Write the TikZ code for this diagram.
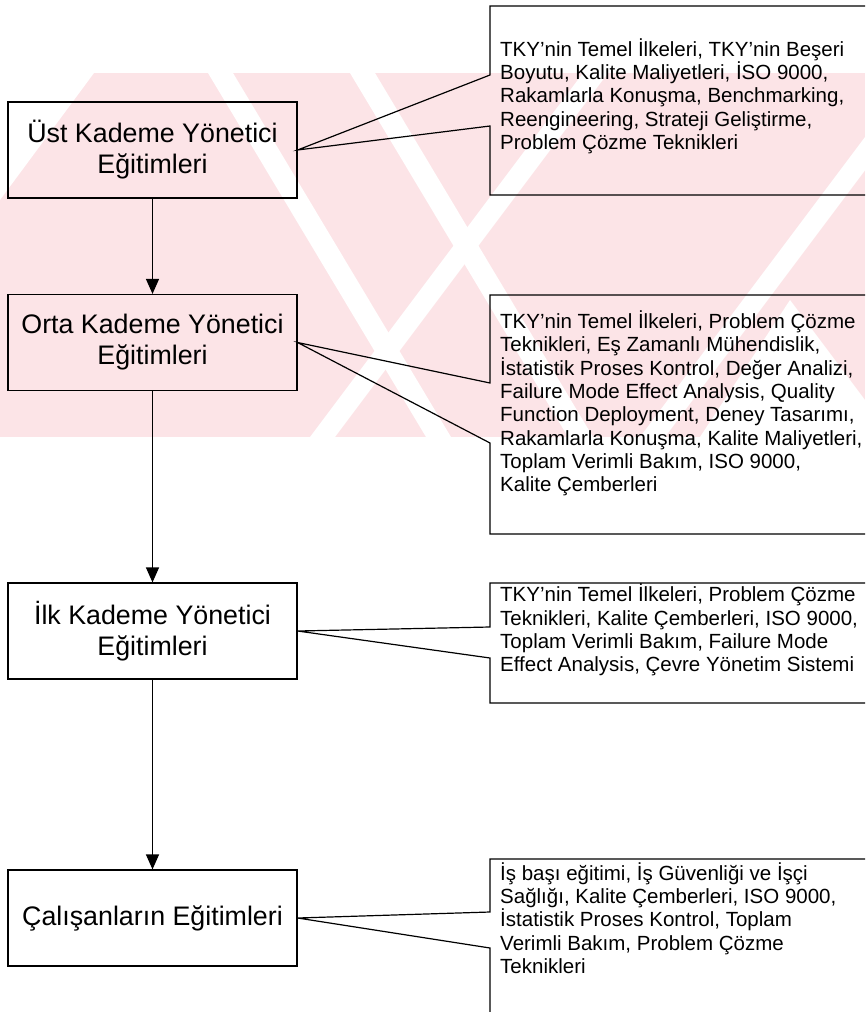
\documentclass[tikz,border=0pt]{standalone}
\usepackage{fontspec}
\setmainfont{Liberation Sans}
\usetikzlibrary{arrows.meta}

\definecolor{wmpink}{RGB}{252,228,231}

\tikzset{
  stagebox/.style={draw, line width=1.2pt, minimum width=289pt, minimum height=96pt,
    inner sep=0pt, align=center, font=\fontsize{26.8}{31}\selectfont},
  topiclist/.style={anchor=west, inner sep=0pt, align=left,
    font=\fontsize{20.5}{23.3}\selectfont},
  callout/.style={draw, line width=1.2pt},
  flow/.style={draw, line width=1.2pt, -{Triangle[length=15pt,width=13pt]}},
  gap/.style={fill=white}
}

\begin{document}
\begin{tikzpicture}[x=1pt,y=-1pt]
\useasboundingbox (0,0) rectangle (865,1012);
\clip (0,0) rectangle (865,1012);

% faint striped background emblem
\begin{scope}
  \clip (0,73) rectangle (865,437);
  \fill[wmpink] (0,73) rectangle (865,437);
  \fill[gap] (0,73) -- (94,73) -- (0,200) -- cycle;
  % slanted light gaps, falling to the right
  \fill[gap] (208,73) -- (233,73) -- (451,437) -- (426,437) -- cycle;
  \fill[gap] (350,73) -- (375,73) -- (593,437) -- (568,437) -- cycle;
  % slanted light gaps, rising to the right
  \fill[gap] (310,437) -- (335,437) -- (608,73) -- (583,73) -- cycle;
  \fill[gap] (640,437) -- (665,437) -- (938,73) -- (913,73) -- cycle;
  \fill[gap] (700,437) -- (865,437) -- (865,400) -- (790,300) -- cycle;
\end{scope}

% training stages
\node[stagebox] (ust)  at (152.5,150) {Üst Kademe Yönetici\\Eğitimleri};
\node[stagebox] (orta) at (152.5,342.5) {Orta Kademe Yönetici\\Eğitimleri};
\node[stagebox] (ilk)  at (152.5,631) {İlk Kademe Yönetici\\Eğitimleri};
\node[stagebox] (cal)  at (152.5,918) {Çalışanların Eğitimleri};

\draw[flow] (ust.south) -- (orta.north);
\draw[flow] (orta.south) -- (ilk.north);
\draw[flow] (ilk.south) -- (cal.north);

% topic lists
\node[topiclist] (t1) at (500,96) {TKY'nin Temel İlkeleri, TKY'nin Beşeri\\
Boyutu, Kalite Maliyetleri, İSO 9000,\\
Rakamlarla Konuşma, Benchmarking,\\
Reengineering, Strateji Geliştirme,\\
Problem Çözme Teknikleri};

\node[topiclist] (t2) at (500,403.5) {TKY'nin Temel İlkeleri, Problem Çözme\\
Teknikleri, Eş Zamanlı Mühendislik,\\
İstatistik Proses Kontrol, Değer Analizi,\\
Failure Mode Effect Analysis, Quality\\
Function Deployment, Deney Tasarımı,\\
Rakamlarla Konuşma, Kalite Maliyetleri,\\
Toplam Verimli Bakım, ISO 9000,\\
Kalite Çemberleri};

\node[topiclist] (t3) at (500,630) {TKY'nin Temel İlkeleri, Problem Çözme\\
Teknikleri, Kalite Çemberleri, ISO 9000,\\
Toplam Verimli Bakım, Failure Mode\\
Effect Analysis, Çevre Yönetim Sistemi};

\node[topiclist] (t4) at (500,918) {İş başı eğitimi, İş Güvenliği ve İşçi\\
Sağlığı, Kalite Çemberleri, ISO 9000,\\
İstatistik Proses Kontrol, Toplam\\
Verimli Bakım, Problem Çözme\\
Teknikleri};

% callout frames pointing back to their stage
\draw[callout] (880,6) -- (490,6) -- (490,75) -- (ust.east) -- (490,126)
  -- (490,195) -- (880,195);
\draw[callout] (880,295) -- (490,295) -- (490,383) -- (orta.east) -- (490,443)
  -- (490,534) -- (880,534);
\draw[callout] (880,583) -- (490,583) -- (490,627) -- (ilk.east) -- (490,658)
  -- (490,703) -- (880,703);
\draw[callout] (880,859) -- (490,859) -- (490,912) -- (cal.east) -- (490,948)
  -- (490,1030);
\end{tikzpicture}
\end{document}
